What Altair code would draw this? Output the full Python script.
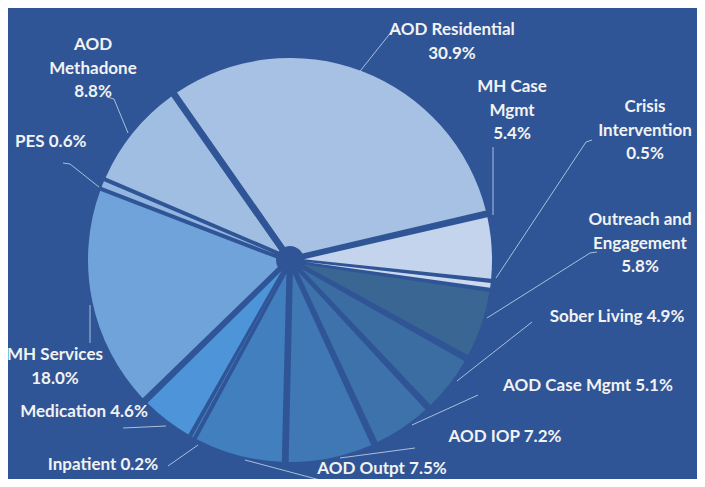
import math
import altair as alt
import pandas as pd

# ---- data ----
categories = ["AOD Residential", "MH Case Mgmt", "Crisis Intervention",
              "Outreach and Engagement", "Sober Living", "AOD Case Mgmt",
              "AOD IOP", "AOD Outpt", "Inpatient", "Medication",
              "MH Services", "PES", "AOD Methadone"]
shares = [30.9, 5.4, 0.5, 5.8, 4.9, 5.1, 7.2, 7.5, 0.2, 4.6, 18.0, 0.6, 8.8]
label_lines = [["AOD Residential", "30.9%"], ["MH Case", "Mgmt", "5.4%"],
               ["Crisis", "Intervention", "0.5%"],
               ["Outreach and", "Engagement", "5.8%"], ["Sober Living 4.9%"],
               ["AOD Case Mgmt 5.1%"], ["AOD IOP 7.2%"], ["AOD Outpt  7.5%"],
               ["Inpatient 0.2%"], ["Medication 4.6%"], ["MH Services", "18.0%"],
               ["PES 0.6%"], ["AOD", "Methadone", "8.8%"]]

# ---- style / layout ----
colors = ["#A7C1E4", "#C3D4EC", "#CCD9EE", "#3A6694", "#3B6DA2", "#3D72AB",
          "#3F78B5", "#427FBF", "#4A8BCF", "#4D95D8", "#6FA3D9", "#92B6E0",
          "#A0BDE2"]
BG = "#2F5597"
M = 8  # page margin
W, H = 705 - 2 * M, 487 - 2 * M
CX, CY = 290 - M, 260 - M
R_OUT, R_IN = 202, 14
START = math.radians(-35)

# label anchor (center x, first-line y) in page pixels, and alignment
label_pos = [(452, 30, "center"), (512, 87, "center"), (645, 107, "center"),
             (640, 220, "center"), (617, 317, "center"), (588, 386, "center"),
             (505, 437, "center"), (382, 469, "center"), (103, 465, "center"),
             (84, 412, "center"), (55, 355, "center"), (15, 142, "left"),
             (93, 45, "center")]
LINE_H = 23.5
leaders = [[(398, 29), (392, 31), (357, 75)],
           [(493, 147), (493, 215)],
           [(592, 140), (586, 142), (496, 278)],
           [(597, 252), (590, 253), (487, 318)],
           [(532, 322), (457, 381)],
           [(478, 395), (412, 425)],
           [(415, 448), (340, 458)],
           [(320, 480), (245, 460)],
           [(168, 466), (198, 445)],
           [(123, 428), (166, 426)],
           [(90, 305), (90, 343)],
           [(63, 163), (70, 164), (99, 187)],
           [(107, 97), (114, 99), (128, 133)]]

pie_df = pd.DataFrame({"category": categories, "share": shares,
                       "idx": list(range(len(categories)))})

rows = []
for cat, lines, (lx, ly, al) in zip(categories, label_lines, label_pos):
    for i, t in enumerate(lines):
        rows.append({"category": cat, "text": t, "x": lx - M,
                     "y": ly - M + i * LINE_H, "align": al})
lab_df = pd.DataFrame(rows)

lrows = []
for cat, pts in zip(categories, leaders):
    for j, (px, py) in enumerate(pts):
        lrows.append({"category": cat, "o": j, "x": px - M, "y": py - M})
lead_df = pd.DataFrame(lrows)

theta = alt.Theta("share:Q", stack=True,
                  scale=alt.Scale(range=[START, START + 2 * math.pi]))
color = alt.Color("category:N", scale=alt.Scale(domain=categories, range=colors),
                  legend=None)

base = alt.Chart(pie_df).encode(theta=theta, color=color,
                                order=alt.Order("idx:Q"),
                                x=alt.value(CX), y=alt.value(CY))
arcs = base.mark_arc(outerRadius=R_OUT, innerRadius=R_IN, padAngle=0.034)
thin = base.mark_arc(outerRadius=R_OUT, innerRadius=R_IN, padAngle=0.008).encode(
    opacity=alt.condition("datum.share < 1", alt.value(1), alt.value(0)))

lead = alt.Chart(lead_df).mark_line(color="#A9BFDD", strokeWidth=1).encode(
    x=alt.X("x:Q", scale=None), y=alt.Y("y:Q", scale=None),
    detail="category:N", order="o:Q")

def texts(df, align):
    return alt.Chart(df).mark_text(font="Lato", fontWeight="bold", fontSize=17,
                                   color="#F2F2F2", align=align,
                                   baseline="middle").encode(
        x=alt.X("x:Q", scale=None), y=alt.Y("y:Q", scale=None), text="text:N")

lab_c = texts(lab_df[lab_df["align"] == "center"], "center")
lab_l = texts(lab_df[lab_df["align"] == "left"], "left")

chart = alt.layer(arcs, thin, lead, lab_c, lab_l).properties(
    width=W, height=H, background=BG, padding=0, autosize="none"
).configure_view(stroke=None)

chart.save("out.html", embed_options={"renderer": "svg", "actions": False})
